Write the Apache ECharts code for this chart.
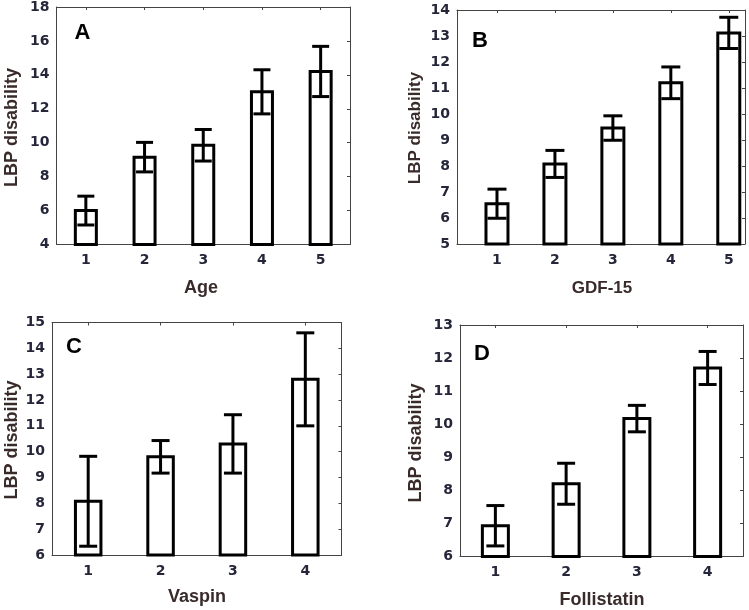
<!DOCTYPE html>
<html><head><meta charset="utf-8">
<script src="https://cdn.jsdelivr.net/npm/echarts@6/dist/echarts.min.js"></script>
<style>html,body{margin:0;padding:0;background:#fff}#c{width:749px;height:610px}</style>
</head><body><div id="c"></div>
<script>
// ---- Data ----
const ageGroups = [1, 2, 3, 4, 5];
const ageMeans = [6.0, 9.15, 9.85, 13.0, 14.2];
const ageErrors = [0.85, 0.87, 0.93, 1.3, 1.48];
const ageYTicks = [4, 6, 8, 10, 12, 14, 16, 18];

const gdfGroups = [1, 2, 3, 4, 5];
const gdfMeans = [6.55, 8.08, 9.46, 11.2, 13.12];
const gdfErrors = [0.56, 0.52, 0.47, 0.61, 0.6];
const gdfYTicks = [5, 6, 7, 8, 9, 10, 11, 12, 13, 14];

const vaspinGroups = [1, 2, 3, 4];
const vaspinMeans = [8.08, 9.8, 10.3, 12.8];
const vaspinErrors = [1.74, 0.63, 1.13, 1.8];
const vaspinYTicks = [6, 7, 8, 9, 10, 11, 12, 13, 14, 15];

const follGroups = [1, 2, 3, 4];
const follMeans = [6.93, 8.2, 10.17, 11.7];
const follErrors = [0.61, 0.62, 0.4, 0.5];
const follYTicks = [6, 7, 8, 9, 10, 11, 12, 13];

const yTitle = 'LBP disability';

// ---- Layout / style ----
const panels = [
  {letter:'A', xTitle:'Age', groups:ageGroups, means:ageMeans, errs:ageErrors, yt:ageYTicks,
   grid:{left:56.5, top:6.5, width:293.5, height:238}, xMin:0.5, xMax:5.5, barW:21, cap:8.5,
   letterPos:[82.5,32.5], xTitlePos:[201,288], yTitlePos:[12.5,127.5], titleSize:18},
  {letter:'B', xTitle:'GDF-15', groups:gdfGroups, means:gdfMeans, errs:gdfErrors, yt:gdfYTicks,
   grid:{left:457, top:10, width:288, height:234}, xMin:0.31, xMax:5.28, barW:22, cap:9.5,
   letterPos:[480,40.5], xTitlePos:[602,288], yTitlePos:[415,128], titleSize:17},
  {letter:'C', xTitle:'Vaspin', groups:vaspinGroups, means:vaspinMeans, errs:vaspinErrors, yt:vaspinYTicks,
   grid:{left:52, top:322.5, width:289.5, height:232.5}, xMin:0.5, xMax:4.5, barW:25.5, cap:9,
   letterPos:[74,347], xTitlePos:[197,597], yTitlePos:[12,440], titleSize:18},
  {letter:'D', xTitle:'Follistatin', groups:follGroups, means:follMeans, errs:follErrors, yt:follYTicks,
   grid:{left:460, top:325, width:283, height:231.5}, xMin:0.5, xMax:4.5, barW:26, cap:9,
   letterPos:[482,354], xTitlePos:[602,600], yTitlePos:[416,443], titleSize:18}
];

const frameColor = '#444';
const tickColor = '#26263a';
const titleColor = '#3a2b2b';
const tickFont = {fontFamily:'DejaVu Sans', fontWeight:'bold', fontSize:14, color:tickColor};

const grids = [], xAxes = [], yAxes = [], series = [], graphics = [];

panels.forEach((p, i) => {
  grids.push(Object.assign({containLabel:false}, p.grid));
  const yMin = p.yt[0], yMax = p.yt[p.yt.length - 1];
  const step = p.yt[1] - p.yt[0];
  xAxes.push({type:'value', gridIndex:i, position:'bottom', min:p.xMin, max:p.xMax,
    axisLine:{show:true, onZero:false, lineStyle:{color:frameColor, width:1}},
    axisTick:{show:true, inside:true, length:3, customValues:p.groups, lineStyle:{color:frameColor}},
    axisLabel:Object.assign({customValues:p.groups, margin:9}, tickFont),
    splitLine:{show:false}});
  xAxes.push({type:'value', gridIndex:i, position:'top', min:p.xMin, max:p.xMax,
    axisLine:{show:true, onZero:false, lineStyle:{color:frameColor, width:1}},
    axisTick:{show:true, inside:true, length:3, customValues:p.groups, lineStyle:{color:frameColor}},
    axisLabel:{show:false}, splitLine:{show:false}});
  yAxes.push({type:'value', gridIndex:i, position:'left', min:yMin, max:yMax, interval:step,
    axisLine:{show:true, onZero:false, lineStyle:{color:frameColor, width:1}},
    axisTick:{show:false},
    axisLabel:Object.assign({margin:7}, tickFont),
    splitLine:{show:false}});
  yAxes.push({type:'value', gridIndex:i, position:'right', min:yMin, max:yMax, interval:step,
    axisLine:{show:true, onZero:false, lineStyle:{color:frameColor, width:1}},
    axisTick:{show:true, inside:true, length:3, lineStyle:{color:frameColor}},
    axisLabel:{show:false}, splitLine:{show:false}});

  const data = p.groups.map((g, k) => [g, p.means[k], p.errs[k]]);
  const halfW = p.barW / 2, cap = p.cap;
  series.push({type:'custom', xAxisIndex:2*i, yAxisIndex:2*i, data:data, z:2,
    encode:{x:0, y:1},
    renderItem:function(params, api){
      const x = api.value(0), m = api.value(1);
      const top = api.coord([x, m]);
      const bot = api.coord([x, yMin]);
      return {type:'rect', shape:{x:top[0]-halfW, y:top[1], width:2*halfW, height:bot[1]-top[1]},
        style:{fill:'#fff', stroke:'#000', lineWidth:3}};
    }});
  series.push({type:'custom', xAxisIndex:2*i, yAxisIndex:2*i, data:data, z:3,
    encode:{x:0, y:[1,2]},
    renderItem:function(params, api){
      const x = api.value(0), m = api.value(1), e = api.value(2);
      const hi = api.coord([x, m + e]), lo = api.coord([x, m - e]);
      const st = {stroke:'#000', lineWidth:3};
      return {type:'group', children:[
        {type:'line', shape:{x1:hi[0], y1:hi[1], x2:lo[0], y2:lo[1]}, style:st},
        {type:'line', shape:{x1:hi[0]-cap, y1:hi[1], x2:hi[0]+cap, y2:hi[1]}, style:st},
        {type:'line', shape:{x1:lo[0]-cap, y1:lo[1], x2:lo[0]+cap, y2:lo[1]}, style:st}
      ]};
    }});

  graphics.push({type:'text', x:p.letterPos[0], y:p.letterPos[1], z:10,
    style:{text:p.letter, fill:'#000', font:'bold 22px "Liberation Sans", Arial', align:'center', verticalAlign:'middle'}});
  graphics.push({type:'text', x:p.xTitlePos[0], y:p.xTitlePos[1], z:10,
    style:{text:p.xTitle, fill:titleColor, font:'bold ' + p.titleSize + 'px "Liberation Sans", Arial', align:'center', verticalAlign:'middle'}});
  graphics.push({type:'text', x:p.yTitlePos[0], y:p.yTitlePos[1], rotation:Math.PI/2, z:10,
    style:{text:yTitle, fill:titleColor, font:'bold ' + p.titleSize + 'px "Liberation Sans", Arial', align:'center', verticalAlign:'middle'}});
});

const chart = echarts.init(document.getElementById('c'), null, {renderer:'canvas'});
chart.setOption({
  backgroundColor:'#fff',
  animation:false,
  grid:grids, xAxis:xAxes, yAxis:yAxes, series:series,
  graphic:graphics
});
</script>
</body></html>
